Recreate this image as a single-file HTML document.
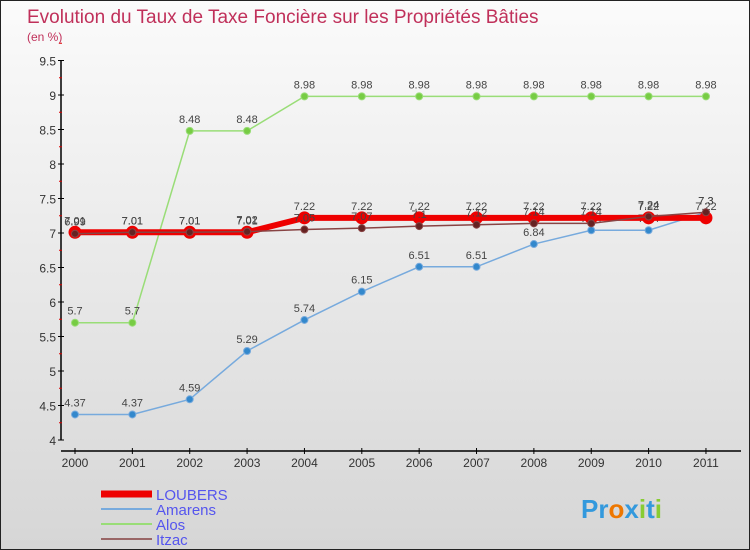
<!DOCTYPE html>
<html><head><meta charset="utf-8"><style>
body{margin:0}
#wrap{width:748px;height:548px;border:1px solid #222;background:linear-gradient(#fbfbfb,#d6d6d6);position:relative;font-family:"Liberation Sans",sans-serif;overflow:hidden}
</style></head><body>
<div id="wrap">
<svg id="c" width="748" height="548"></svg>
</div>
<script>
const years=["2000","2001","2002","2003","2004","2005","2006","2007","2008","2009","2010","2011"];
const yTicks=[4,4.5,5,5.5,6,6.5,7,7.5,8,8.5,9,9.5];
const loubers=[7.01,7.01,7.01,7.01,7.22,7.22,7.22,7.22,7.22,7.22,7.22,7.22];
const amarens=[4.37,4.37,4.59,5.29,5.74,6.15,6.51,6.51,6.84,7.04,7.04,7.3];
const alos=[5.7,5.7,8.48,8.48,8.98,8.98,8.98,8.98,8.98,8.98,8.98,8.98];
const itzac=[6.99,7.01,7.01,7.02,7.05,7.07,7.1,7.12,7.14,7.14,7.24,7.3];
const NS="http://www.w3.org/2000/svg";
const svg=document.getElementById('c');
const X=i=>74+i*57.36;
const Y=v=>439-(v-4)*69;
function mk(t,a,p){const e=document.createElementNS(NS,t);for(const k in a)e.setAttribute(k,a[k]);(p||svg).appendChild(e);return e;}
let t=mk('text',{x:26,y:22,'font-size':19,fill:'#c0305a'});t.textContent="Evolution du Taux de Taxe Foncière sur les Propriétés Bâties";


t=mk('text',{x:26,y:40,'font-size':12,fill:'#c0305a'});t.textContent="(en %)";


let a=mk('line',{x1:60,y1:59,x2:60,y2:439,stroke:'#000','stroke-width':1.5});


a=mk('line',{x1:60,y1:450,x2:740,y2:450,stroke:'#000','stroke-width':1.5});


yTicks.forEach(v=>{
  mk('line',{x1:57,y1:Y(v),x2:63,y2:Y(v),stroke:'#000'});
  mk('line',{x1:58,y1:Y(v+0.25),x2:61,y2:Y(v+0.25),stroke:'#d00'});
  const l=mk('text',{x:55,y:Y(v)+5,'font-size':12,fill:'#333','text-anchor':'end'});l.textContent=String(v);
  
  
});
years.forEach((y,i)=>{
  mk('line',{x1:X(i),y1:447,x2:X(i),y2:453,stroke:'#000'});
  const l=mk('text',{x:X(i),y:466,'font-size':12,fill:'#333','text-anchor':'middle'});l.textContent=y;
  
  
});
function series(vals,color,dot,w,r,name){
  const g=mk('g',{});
  
  
  mk('polyline',{points:vals.map((v,i)=>X(i)+','+Y(v)).join(' '),fill:'none',stroke:color,'stroke-width':w},g);
  vals.forEach((v,i)=>{
    const c=mk('circle',{cx:X(i),cy:Y(v),r:r,fill:dot,stroke:color,'stroke-width':1},g);
    
    
    const l=mk('text',{x:X(i),y:Y(v)-8,'font-size':11,fill:'#444','text-anchor':'middle'},g);l.textContent=String(v);
  });
}
series(alos,'#99dd77','#77cc44',1.5,3.5,'alos');
series(amarens,'#77aadd','#3388cc',1.5,3.5,'amarens');
series(loubers,'#ee0000','#ee0000',6,6,'loubers');
series(itzac,'#884444','#662222',1.5,3.5,'itzac');
const leg=[['LOUBERS','#ee0000',7],['Amarens','#77aadd',2],['Alos','#99dd77',2],['Itzac','#996666',2]];
leg.forEach((l,i)=>{
  const y=493+i*15;
  mk('line',{x1:100,y1:y,x2:151,y2:y,stroke:l[1],'stroke-width':l[2]});
  const tx=mk('text',{x:155,y:y+6,'font-size':15,fill:'#5555ee'});tx.textContent=l[0];
  
  
});
const p=mk('text',{x:580,y:517,'font-size':26,'font-weight':'bold',fill:'#3399dd'});
p.innerHTML='Pr<tspan fill="#ee7700">o</tspan>x<tspan fill="#88cc33">i</tspan>t<tspan fill="#88cc33">i</tspan>';


</script>
</body></html>
